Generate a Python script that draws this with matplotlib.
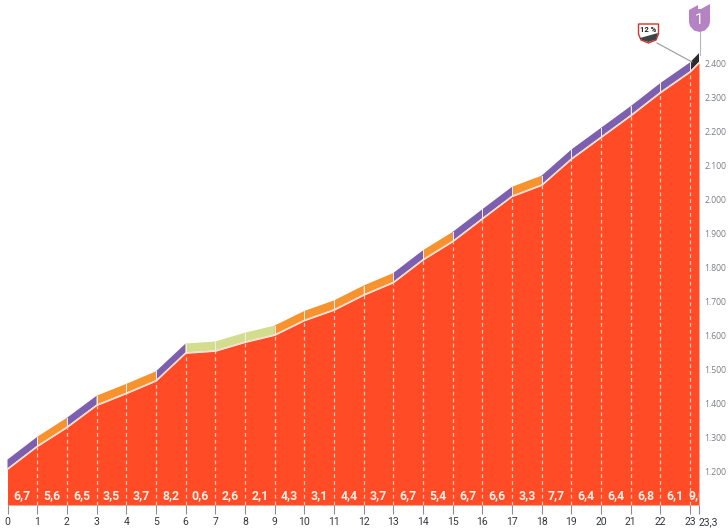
import matplotlib
matplotlib.use("Agg")
import matplotlib.pyplot as plt
from matplotlib.patches import Polygon

km = [0, 1, 2, 3, 4, 5, 6, 7, 8, 9, 10, 11, 12, 13, 14, 15, 16, 17, 18, 19, 20, 21, 22, 23, 23.3]
elevation = [1205, 1272, 1328, 1393, 1428, 1465, 1547, 1553, 1579, 1600, 1643, 1674, 1718, 1755,
             1822, 1876, 1943, 2009, 2042, 2119, 2183, 2247, 2315, 2376, 2403]
gradient = ["6,7", "5,6", "6,5", "3,5", "3,7", "8,2", "0,6", "2,6", "2,1", "4,3", "3,1", "4,4", "3,7",
            "6,7", "5,4", "6,7", "6,6", "3,3", "7,7", "6,4", "6,4", "6,8", "6,1", "9,0"]
band = ["p", "o", "p", "o", "o", "p", "g", "g", "g", "o", "o", "o", "o",
        "p", "o", "p", "p", "o", "p", "p", "p", "p", "p", "k"]
y_ticks = [1200, 1300, 1400, 1500, 1600, 1700, 1800, 1900, 2000, 2100, 2200, 2300, 2400]
x_ticks = list(range(24)) + [23.3]
x_labels = [str(i) for i in range(24)] + ["23,3"]

band_colors = {"p": "#7d5fb0", "o": "#f7932f", "g": "#d2de8e", "k": "#2c2c30"}
red = "#ff4b26"
band_gap = 3
band_height = 26

W, H = 728, 529
fig = plt.figure(figsize=(W / 100, H / 100), dpi=100)
# axes placed so km 0 -> 7.5px, km 23.3 -> 699px, 1100m -> 505px, 2400m -> 64px
ax = fig.add_axes([7.5 / W, (H - 505) / H, (699 - 7.5) / W, (505 - 64) / H])
ax.set_xlim(0, 23.3)
ax.set_ylim(1100, 2400)
ax.patch.set_alpha(0)
for s in ax.spines.values():
    s.set_visible(False)

ax.fill_between(km, 1100, elevation, color=red, lw=0, clip_on=False, zorder=2)

for i in range(len(km) - 1):
    x0, x1 = km[i], km[i + 1]
    y0, y1 = elevation[i] + band_gap, elevation[i + 1] + band_gap
    ax.add_patch(Polygon([(x0, y0), (x1, y1), (x1, y1 + band_height), (x0, y0 + band_height)],
                         closed=True, fc=band_colors[band[i]], ec="none", clip_on=False, zorder=2))
    # gradient label in the middle of each km, the last one is cut at the summit
    if i < 23:
        ax.text((x0 + x1) / 2, 1127, gradient[i], color="#fff0e6", fontsize=8.8, fontweight="bold",
                family="Roboto", ha="center", va="center", zorder=5)
    else:
        ax.text(x0 - 0.05, 1127, gradient[i], color="#fff0e6", fontsize=8.8, fontweight="bold",
                family="Roboto", ha="left", va="center", zorder=5, clip_on=True)

ax.plot(km, [e + 1.5 for e in elevation], color="#ffd9c4", lw=0.8, zorder=3, clip_on=False)

# km separators
for i in range(1, 24):
    ax.plot([km[i], km[i]], [1100, elevation[i]], color="#ffc9b4", lw=0.9, ls=(0, (3, 2.5)), zorder=3)
    ax.plot([km[i], km[i]], [elevation[i] + band_gap, elevation[i] + band_gap + band_height],
            color="#f0ecf4", lw=0.7, zorder=3, clip_on=False)

ax.set_xticks(x_ticks)
ax.set_xticklabels(x_labels, fontsize=7.5, color="#33373d", family="Roboto")
ax.get_xticklabels()[-1].set_ha("left")
ax.tick_params(axis="x", length=6.5, width=0.8, color="#8a8f96", pad=2)
ax.yaxis.tick_right()
ax.set_yticks(y_ticks)
ax.set_yticklabels([f"{v:,}".replace(",", ".") for v in y_ticks], fontsize=6.2, color="#7a7e83",
                   family="Open Sans")
ax.tick_params(axis="y", length=0, pad=3.8)

# overlay in pixel coordinates for the badges
ov = fig.add_axes([0, 0, 1, 1])
ov.set_xlim(0, W)
ov.set_ylim(H, 0)
ov.axis("off")
ov.patch.set_alpha(0)

# summit marker
ov.plot([699.5, 699.5], [28, 55], color="#b9b3bf", lw=0.8, zorder=1)
ov.add_patch(Polygon([(689, 10), (698, 5), (698, 9), (701, 9), (710, 4), (710, 22), (709, 26), (705, 30.5),
                      (699.5, 32), (694, 30.5), (690, 26), (689, 22)],
                     closed=True, fc="#b583c4", ec="none", zorder=2))
ov.text(699.5, 20, "1", color="white", fontsize=11, family="Roboto", ha="center", va="center", zorder=3)

# gradient badge
ov.plot([657, 692], [43, 62], color="#9a9a9a", lw=0.8, zorder=1)
ov.add_patch(Polygon([(638.5, 24), (658.5, 24), (658.5, 34), (656, 40), (648.5, 43), (641, 40), (638.5, 34)],
                     closed=True, fc="white", ec="#d8312c", lw=1.0, zorder=2))
ov.add_patch(Polygon([(640, 38), (658, 33), (656, 39.5), (648.5, 42), (642, 40)],
                     closed=True, fc="#3f4347", ec="none", zorder=3))
ov.text(648.5, 29, "12 %", color="#222222", fontsize=5.5, fontweight="bold", family="Roboto",
        ha="center", va="center", zorder=4)

fig.savefig("out.png", dpi=100)
